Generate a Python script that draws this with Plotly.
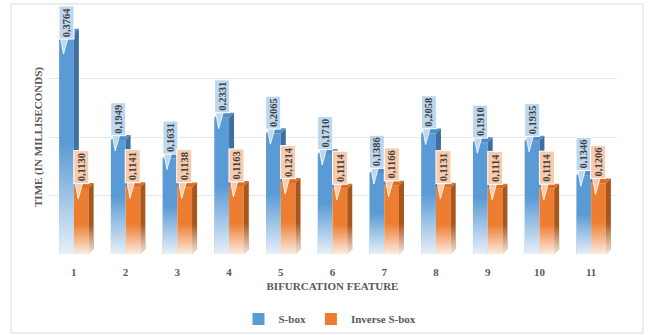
import plotly.graph_objects as go

# ---------------- data ----------------
categories = ['1', '2', '3', '4', '5', '6', '7', '8', '9', '10', '11']
sbox = [0.3764, 0.1949, 0.1631, 0.2331, 0.2065, 0.1710, 0.1386, 0.2058, 0.1910, 0.1935, 0.1346]
inv_sbox = [0.1130, 0.1141, 0.1138, 0.1163, 0.1214, 0.1114, 0.1166, 0.1131, 0.1114, 0.1114, 0.1206]
series_names = ['S-box', 'Inverse S-box']
y_title = 'TIME (IN MILLISECONDS)'
x_title = 'BIFURCATION FEATURE'

# ---------------- styling / geometry ----------------
FIG_W, FIG_H = 649, 335
ML, MR, MT, MB = 48, 32, 20, 81
PLOT_W = FIG_W - ML - MR
PLOT_H = FIG_H - MT - MB
X_RANGE = [0.5, len(categories) + 0.5]
Y_RANGE = [0, 0.4]
PXX = (X_RANGE[1] - X_RANGE[0]) / PLOT_W   # data units per px (x)
PXY = (Y_RANGE[1] - Y_RANGE[0]) / PLOT_H   # data units per px (y)

W = 0.285
DX, DY = 5 * PXX, 5 * PXY

BLUE, BLUE_SIDE, BLUE_TOP, BLUE_LBL = '#5B9BD5', '#3E6F9F', '#4F8DC8', '#BDD7EE'
ORNG, ORNG_SIDE, ORNG_TOP, ORNG_LBL = '#ED7D31', '#A9561C', '#D96F28', '#F8CBAD'
GRAY = '#595959'
FONT = 'Liberation Serif'

xs = [i + 1 for i in range(len(categories))]


def ypx(v):
    return MT + PLOT_H - (v - Y_RANGE[0]) / PXY


def poly_trace(polys, color, line_color=None, line_w=0):
    px, py = [], []
    for p in polys:
        for (a, b) in p:
            px.append(a)
            py.append(b)
        px.append(p[0][0]); py.append(p[0][1])
        px.append(None); py.append(None)
    return go.Scatter(x=px, y=py, mode='lines', fill='toself', fillcolor=color,
                      line=dict(width=line_w, color=line_color or color),
                      hoverinfo='skip', showlegend=False)


fig = go.Figure()

# front faces
fig.add_trace(go.Bar(x=xs, y=sbox, width=W, offset=-W, name=series_names[0],
                     marker=dict(color=BLUE, line=dict(width=0)), hoverinfo='skip'))
fig.add_trace(go.Bar(x=xs, y=inv_sbox, width=W, offset=0, name=series_names[1],
                     marker=dict(color=ORNG, line=dict(width=0)), hoverinfo='skip'))

# 3D faces
b_top, b_side, o_top, o_side = [], [], [], []
for c, v, o in zip(xs, sbox, inv_sbox):
    b_top.append([(c - W, v), (c - W + DX, v + DY), (c + DX, v + DY), (c, v)])
    b_side.append([(c, o), (c + DX, o + DY), (c + DX, v + DY), (c, v)])
    o_top.append([(c, o), (c + DX, o + DY), (c + W + DX, o + DY), (c + W, o)])
    o_side.append([(c + W, 0), (c + W + DX, DY), (c + W + DX, o + DY), (c + W, o)])
fig.add_trace(poly_trace(b_side, BLUE_SIDE))
fig.add_trace(poly_trace(b_top, BLUE_TOP))
fig.add_trace(poly_trace(o_side, ORNG_SIDE))
fig.add_trace(poly_trace(o_top, ORNG_TOP))

# gradient fade toward the floor
for c, v, o in zip(xs, sbox, inv_sbox):
    for pts, top, frac in [
        ([(c - W, 0), (c, 0), (c, o), (c + DX, o + DY), (c + DX, v + DY), (c - W, v)], v, 0.5),
        ([(c, 0), (c + W, 0), (c + W + DX, DY), (c + W + DX, o + DY), (c, o)], o, 0.45),
    ]:
        fig.add_trace(go.Scatter(
            x=[p[0] for p in pts] + [pts[0][0]], y=[p[1] for p in pts] + [pts[0][1]],
            mode='lines', fill='toself', line=dict(width=0), hoverinfo='skip', showlegend=False,
            fillgradient=dict(type='vertical', start=0, stop=top,
                              colorscale=[[0, 'rgba(255,255,255,0.85)'],
                                          [frac, 'rgba(255,255,255,0)'],
                                          [1, 'rgba(255,255,255,0)']])))

# data label callouts
BOX_LEN, BOX_THK, GAP, TAIL = 34, 16, 4, 15
annotations = []
for vals, off, lbl_col in [(sbox, -W / 2, BLUE_LBL), (inv_sbox, W / 2, ORNG_LBL)]:
    tails = []
    for c, v in zip(xs, vals):
        vp = ypx(v)
        bottom = vp - GAP
        if bottom - BOX_LEN < 5:
            bottom = 5 + BOX_LEN
        cx = c + off
        yb = Y_RANGE[0] + (MT + PLOT_H - bottom) * PXY
        tails.append([(cx - 6 * PXX, yb + 1 * PXY), (cx + 1.5 * PXX, yb + 1 * PXY),
                      (cx - 3 * PXX, yb - TAIL * PXY)])
        annotations.append(dict(
            x=cx, y=v, xref='x', yref='y', text=f'{v:.4f}'.replace('.', ','),
            textangle=-90, showarrow=False, xanchor='center', yanchor='bottom',
            yshift=vp - bottom, width=BOX_LEN - 2, height=BOX_THK - 2,
            bgcolor=lbl_col, bordercolor='white', borderwidth=1, borderpad=0,
            font=dict(family=FONT, size=10.5, color='#404040', weight='bold')))
    fig.add_trace(poly_trace(tails, lbl_col, 'white', 0.8))

fig.update_layout(
    width=FIG_W, height=FIG_H,
    margin=dict(l=ML, r=MR, t=MT, b=MB, autoexpand=False),
    paper_bgcolor='white', plot_bgcolor='white',
    barmode='overlay',
    font=dict(family=FONT, color=GRAY),
    annotations=annotations,
    showlegend=True,
    legend=dict(orientation='h', xref='container', yref='container',
                x=330 / FIG_W, xanchor='center',
                y=1 - 319 / FIG_H, yanchor='middle',
                font=dict(family=FONT, size=11, color=GRAY, weight='bold'),
                itemwidth=30, bgcolor='rgba(0,0,0,0)'),
    xaxis=dict(range=X_RANGE, tickmode='array', tickvals=xs, ticktext=categories,
               showgrid=False, zeroline=False, showline=False, ticks='',
               automargin=False, ticklabelstandoff=10,
               tickfont=dict(family=FONT, size=11, color=GRAY, weight='bold'),
               title=dict(text=x_title, standoff=5,
                          font=dict(family=FONT, size=11, color=GRAY, weight='bold'))),
    yaxis=dict(range=Y_RANGE, dtick=0.1, showticklabels=False, showgrid=True,
               gridcolor='#E6E6E6', gridwidth=1, zeroline=False, showline=False, ticks='',
               automargin=False,
               title=dict(text=y_title, standoff=2,
                          font=dict(family=FONT, size=11, color=GRAY, weight='bold'))),
    shapes=[dict(type='rect', xref='paper', yref='paper',
                 x0=(11 - ML) / PLOT_W, x1=(643 - ML) / PLOT_W,
                 y0=(MT + PLOT_H - 333) / PLOT_H, y1=(MT + PLOT_H - 4) / PLOT_H,
                 line=dict(color='#D9D9D9', width=1), layer='below')],
)

fig.write_html('out.html')
